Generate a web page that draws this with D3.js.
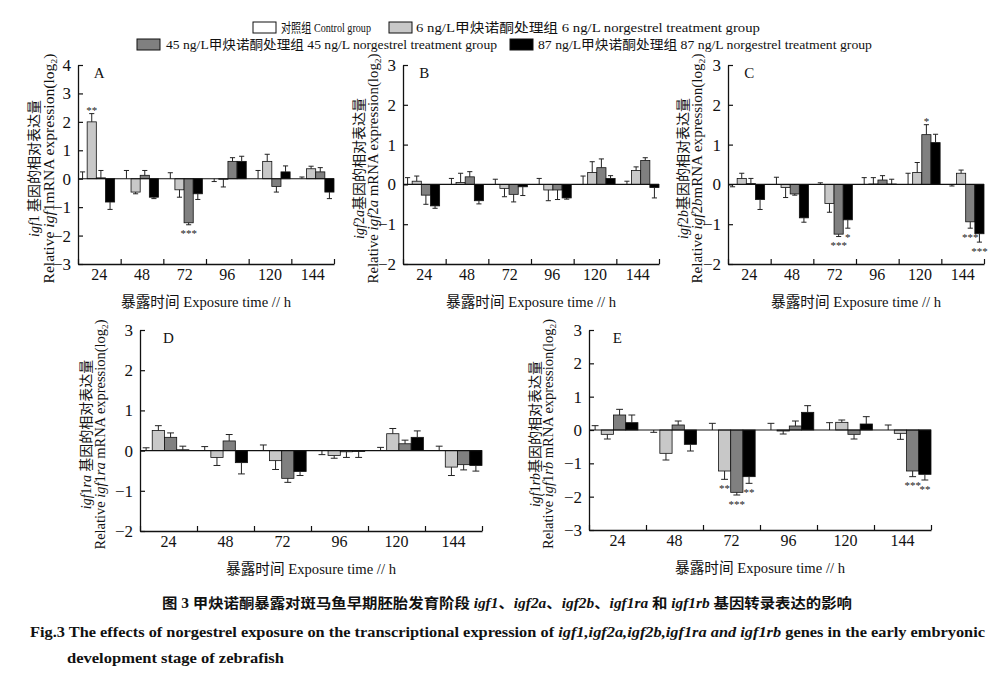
<!DOCTYPE html>
<html><head><meta charset="utf-8">
<script src="https://cdn.jsdelivr.net/npm/d3@7"></script>
<style>
body{margin:0;background:#fff}
svg{display:block}
text{font-family:'Liberation Serif','Noto Sans CJK SC',serif;fill:#111}
</style>
</head><body>
<svg id="c" width="1000" height="675"></svg>
<script>
// ---------------- DATA ----------------
const categories = ["24","48","72","96","120","144"];
const seriesNames = [
  "对照组 Control group",
  "6 ng/L甲炔诺酮处理组 6 ng/L norgestrel treatment group",
  "45 ng/L甲炔诺酮处理组 45 ng/L norgestrel treatment group",
  "87 ng/L甲炔诺酮处理组 87 ng/L norgestrel treatment group"
];
const seriesColors = ["#ffffff","#c8c8c8","#808080","#000000"];
const ctrl = [0,0,0,0,0,0];

// Panel A: igf1  (errors signed: + up, - down)
const aCtrlErr = [0.24, 0.29, 0.21, -0.10, 0.29, 0.06];
const a6   = [2.00, -0.47, -0.39, -0.02, 0.61, 0.35];
const a6Err  = [0.29, -0.06, -0.26, -0.27, 0.25, 0.09];
const a45  = [0.03, 0.12, -1.55, 0.61, -0.27, 0.24];
const a45Err = [0.26, 0.17, -0.07, 0.13, -0.20, 0.15];
const a87  = [-0.82, -0.65, -0.53, 0.61, 0.24, -0.47];
const a87Err = [-0.26, -0.05, -0.20, 0.18, 0.21, -0.23];
const sigA = [[0,1,"**"],[2,2,"***"]];

// Panel B: igf2a
const bCtrlErr = [0.17, 0.15, 0.13, 0.15, 0.21, 0.08];
const b6   = [0.08, 0.05, -0.10, -0.14, 0.30, 0.35];
const b6Err  = [0.13, 0.23, -0.21, -0.27, 0.27, 0.09];
const b45  = [-0.27, 0.19, -0.25, -0.14, 0.42, 0.60];
const b45Err = [-0.23, 0.13, -0.19, -0.24, 0.22, 0.07];
const b87  = [-0.54, -0.41, -0.06, -0.34, 0.15, -0.08];
const b87Err = [-0.06, -0.08, -0.22, -0.03, 0.07, -0.26];
const sigB = [];

// Panel C: igf2b
const cCtrlErr = [-0.06, 0.18, 0.04, 0.17, 0.28, -0.04];
const c6   = [0.15, -0.08, -0.48, 0.01, 0.30, 0.28];
const c6Err  = [0.13, -0.25, -0.22, 0.16, 0.25, 0.08];
const c45  = [0.02, -0.24, -1.25, 0.11, 1.25, -0.94];
const c45Err = [0.13, -0.03, -0.06, 0.11, 0.25, -0.16];
const c87  = [-0.38, -0.84, -0.89, 0.01, 1.05, -1.24];
const c87Err = [-0.25, -0.11, -0.21, 0.12, 0.21, -0.21];
const sigC = [[2,2,"***"],[2,3,"*"],[4,2,"*"],[5,2,"***"],[5,3,"***"]];

// Panel D: igf1ra
const dCtrlErr = [0.07, 0.10, 0.14, -0.10, 0.08, 0.11];
const d6   = [0.50, -0.17, -0.25, -0.12, 0.42, -0.41];
const d6Err  = [0.12, -0.20, -0.22, -0.07, 0.13, -0.21];
const d45  = [0.33, 0.24, -0.69, -0.03, 0.17, -0.35];
const d45Err = [0.11, 0.16, -0.10, -0.14, 0.09, -0.13];
const d87  = [0.02, -0.30, -0.52, -0.02, 0.33, -0.37];
const d87Err = [0.09, -0.28, -0.10, -0.15, 0.16, -0.14];
const sigD = [];

// Panel E: igf1rb
const eCtrlErr = [0.13, -0.07, 0.20, 0.20, 0.22, 0.15];
const e6   = [-0.13, -0.70, -1.23, -0.03, 0.23, -0.10];
const e6Err  = [-0.14, -0.20, -0.25, -0.09, 0.07, -0.18];
const e45  = [0.45, 0.15, -1.87, 0.12, -0.13, -1.23];
const e45Err = [0.17, 0.12, -0.08, 0.15, -0.14, -0.17];
const e87  = [0.22, -0.43, -1.40, 0.53, 0.18, -1.33];
const e87Err = [0.23, -0.20, -0.20, 0.20, 0.22, -0.17];
const sigE = [[2,1,"**"],[2,2,"***"],[2,3,"**"],[5,2,"***"],[5,3,"**"]];

// ---------------- LAYOUT ----------------
const panels = [
  {letter:"A", gene:"1",  sp1:" ", sp2:"", box:[78,334,65,264],  domain:[-3,4], vals:[ctrl,a6,a45,a87], errs:[aCtrlErr,a6Err,a45Err,a87Err], sig:sigA, lab:[-44,-29]},
  {letter:"B", gene:"2a", sp1:"",  sp2:" ", box:[403,659,65,264], domain:[-2,3], vals:[ctrl,b6,b45,b87], errs:[bCtrlErr,b6Err,b45Err,b87Err], sig:sigB, lab:[-44,-30]},
  {letter:"C", gene:"2b", sp1:"",  sp2:"", box:[728,984,65,264], domain:[-2,3], vals:[ctrl,c6,c45,c87], errs:[cCtrlErr,c6Err,c45Err,c87Err], sig:sigC, lab:[-45,-31]},
  {letter:"D", gene:"1ra",sp1:" ", sp2:" ", box:[140,482,330,531], domain:[-2,3], vals:[ctrl,d6,d45,d87], errs:[dCtrlErr,d6Err,d45Err,d87Err], sig:sigD, lab:[-54,-40]},
  {letter:"E", gene:"1rb",sp1:"",  sp2:" ", box:[589,931,330,530], domain:[-3,3], vals:[ctrl,e6,e45,e87], errs:[eCtrlErr,e6Err,e45Err,e87Err], sig:sigE, lab:[-54,-41]}
];

const svg = d3.select("#c");
svg.append("rect").attr("width",1000).attr("height",675).attr("fill","#fff");

function addGene(t, code){
  const m = code.match(/^(\d+)([a-z]*)$/);
  t.append("tspan").attr("font-style","italic").text("igf");
  t.append("tspan").text(m[1]);
  if (m[2]) t.append("tspan").attr("font-style","italic").text(m[2]);
}
const fmtTick = d => d < 0 ? "\u2212" + (-d) : String(d);

panels.forEach(p => {
  const [x0,x1,yT,yB] = p.box;
  const g = svg.append("g");
  const y = d3.scaleLinear().domain(p.domain).range([yB,yT]);
  const band = d3.scaleBand().domain(categories).range([x0,x1]).paddingInner(0.165).paddingOuter(0);
  const sub = d3.scaleBand().domain(d3.range(4)).range([0,band.bandwidth()]);
  const cat = d3.scaleBand().domain(categories).range([x0,x1]);
  const bw = sub.bandwidth();

  // bars
  p.vals.forEach((arr,s) => {
    if (s===0) return;
    g.selectAll(null).data(arr).join("rect")
      .attr("x",(d,i)=>band(categories[i])+sub(s))
      .attr("width",bw)
      .attr("y",d=>y(Math.max(d,0)))
      .attr("height",d=>Math.abs(y(d)-y(0)))
      .attr("fill",seriesColors[s])
      .attr("stroke","#111").attr("stroke-width",0.8);
  });
  // error bars
  p.vals.forEach((arr,s) => {
    arr.forEach((v,i) => {
      const cx = band(categories[i])+sub(s)+bw/2;
      const e = v + p.errs[s][i];
      g.append("line").attr("x1",cx).attr("x2",cx).attr("y1",y(v)).attr("y2",y(e))
        .attr("stroke","#222").attr("stroke-width",1);
      g.append("line").attr("x1",cx-bw*0.28).attr("x2",cx+bw*0.28).attr("y1",y(e)).attr("y2",y(e))
        .attr("stroke","#222").attr("stroke-width",1);
    });
  });
  // zero line
  g.append("line").attr("x1",x0).attr("x2",x1).attr("y1",y(0)).attr("y2",y(0))
    .attr("stroke","#111").attr("stroke-width",1.1);

  // y axis
  const ya = g.append("g").attr("transform",`translate(${x0},0)`)
    .call(d3.axisLeft(y).tickValues(d3.range(p.domain[0],p.domain[1]+1)).tickFormat(fmtTick)
      .tickSize(-5).tickSizeOuter(0).tickPadding(7));
  ya.select(".domain").attr("stroke","#111").attr("stroke-width",1.3);
  ya.selectAll(".tick line").attr("stroke","#111").attr("stroke-width",1.2);
  ya.selectAll("text").attr("font-size",17).attr("font-family","'Liberation Serif',serif").attr("fill","#111");

  // x axis: ticks at boundaries, labels at centres
  const xb = d3.scaleLinear().domain([0,6]).range([x0,x1]);
  const xa = g.append("g").attr("transform",`translate(0,${yB})`)
    .call(d3.axisBottom(xb).tickValues(d3.range(0,7)).tickSize(-5).tickSizeOuter(0).tickFormat(""));
  xa.select(".domain").attr("stroke","#111").attr("stroke-width",1.3);
  xa.selectAll(".tick line").attr("stroke","#111").attr("stroke-width",1.2);
  const xl = g.append("g").attr("transform",`translate(0,${yB})`)
    .call(d3.axisBottom(cat).tickSize(0).tickPadding(5));
  xl.select(".domain").remove();
  xl.selectAll("text").attr("font-size",16).attr("font-family","'Liberation Serif',serif").attr("fill","#111");

  // significance
  p.sig.forEach(([i,s,lab]) => {
    const v = p.vals[s][i], e = v + p.errs[s][i];
    const cx = band(categories[i])+sub(s)+bw/2;
    const cy = e < 0 ? y(e)+6 : y(e)-6;
    g.append("text").attr("x",cx).attr("y",cy+6.5).attr("text-anchor","middle")
      .attr("font-family","'Liberation Sans',sans-serif").attr("font-size",11).style("fill","#222").text(lab);
  });

  // panel letter
  g.append("text").attr("x",x0+(x1-x0)*0.083).attr("y",yT+13).attr("text-anchor","middle")
    .attr("font-size",15).text(p.letter);

  // x label
  const xt = g.append("text").attr("x",(x0+x1)/2).attr("y",yB+43).attr("text-anchor","middle")
    .attr("font-size",15).attr("textLength",170).attr("lengthAdjust","spacingAndGlyphs");
  xt.append("tspan").attr("font-family","'Noto Sans CJK SC',sans-serif").text("暴露时间");
  xt.append("tspan").text(" Exposure time // h");

  // y labels
  const cy = (yT+yB)/2 + 4;
  const l1 = g.append("text").attr("transform",`translate(${x0+p.lab[0]+5},${cy}) rotate(-90)`)
    .attr("text-anchor","middle").attr("font-size",14);
  addGene(l1,p.gene);
  l1.append("tspan").attr("font-family","'Noto Sans CJK SC',sans-serif").text(p.sp1+"基因的相对表达量");
  const l2 = g.append("text").attr("transform",`translate(${x0+p.lab[1]+5},${cy}) rotate(-90)`)
    .attr("text-anchor","middle").attr("font-size",14)
    .attr("textLength",230).attr("lengthAdjust","spacingAndGlyphs");
  l2.append("tspan").text("Relative ");
  addGene(l2,p.gene);
  l2.append("tspan").text(p.sp2+"mRNA expression(log");
  l2.append("tspan").attr("font-size",9).attr("dy",3).text("2");
  l2.append("tspan").attr("dy",-3).text(")");
});

// ---------------- LEGEND ----------------
const legendPos = [[253,22,281,90],[389,22,416,344],[137,39,166,331],[510,39,538,334]];
seriesNames.forEach((name,s) => {
  const [bx,by,tx,tw] = legendPos[s];
  svg.append("rect").attr("x",bx).attr("y",by).attr("width",23).attr("height",11)
    .attr("fill",seriesColors[s]).attr("stroke","#111").attr("stroke-width",1);
  svg.append("text").attr("x",tx).attr("y",by+10).attr("font-size",13)
    .attr("textLength",tw).attr("lengthAdjust","spacingAndGlyphs").text(name);
});

// ---------------- CAPTION ----------------
const c1 = svg.append("text").attr("x",162).attr("y",608).attr("font-size",14).attr("font-weight","bold")
  .attr("font-family","'Noto Sans CJK SC',sans-serif")
  .attr("textLength",690).attr("lengthAdjust","spacingAndGlyphs");
c1.append("tspan").text("图 3   甲炔诺酮暴露对斑马鱼早期胚胎发育阶段 ");
[["igf1","、"],["igf2a","、"],["igf2b","、"],["igf1ra"," 和 "],["igf1rb"," 基因转录表达的影响"]].forEach(([gname,after])=>{
  c1.append("tspan").attr("font-style","italic").attr("font-family","'Liberation Serif',serif").text(gname);
  c1.append("tspan").text(after);
});
const c2 = svg.append("text").attr("x",30).attr("y",637).attr("font-size",15).attr("font-weight","bold")
  .attr("font-family","'Liberation Serif',serif")
  .attr("textLength",955).attr("lengthAdjust","spacingAndGlyphs");
c2.append("tspan").text("Fig.3   The effects of norgestrel exposure on the transcriptional expression of ");
c2.append("tspan").attr("font-style","italic").text("igf1,igf2a,igf2b,igf1ra and igf1rb");
c2.append("tspan").text(" genes in the early embryonic");
svg.append("text").attr("x",67).attr("y",663).attr("font-size",15).attr("font-weight","bold")
  .attr("font-family","'Liberation Serif',serif")
  .attr("textLength",217).attr("lengthAdjust","spacingAndGlyphs")
  .text("development stage of zebrafish");
</script>
</body></html>
